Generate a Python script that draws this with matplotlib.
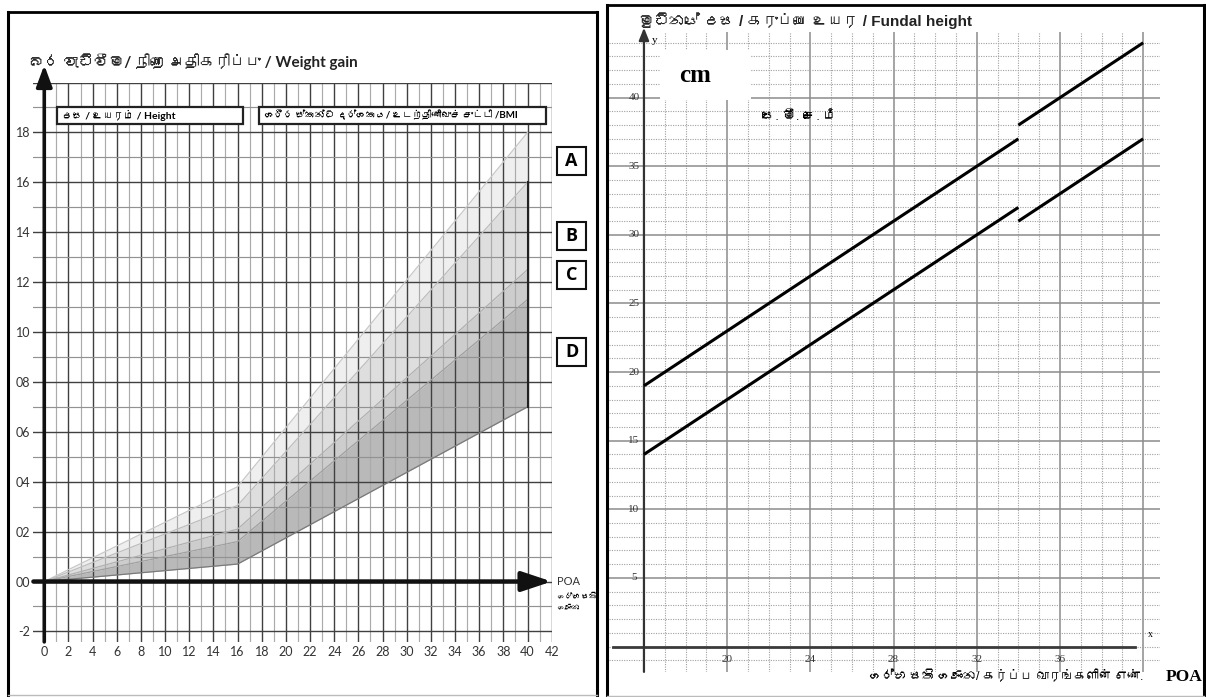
import matplotlib
matplotlib.use("Agg")
import matplotlib.pyplot as plt
from matplotlib import font_manager
from matplotlib.ft2font import FT2Font
from matplotlib.lines import Line2D
from matplotlib.patches import Rectangle

# --- weight gain chart (left) ---
gain_weeks = [0, 16, 40]
gain_low = [0, 0.7, 7.0]
gain_d = [0, 1.6, 11.3]
gain_c = [0, 2.1, 12.5]
gain_b = [0, 3.05, 16.0]
gain_a = [0, 3.8, 18.0]
bmi_labels = ["A", "B", "C", "D"]
bmi_label_y = [16.85, 13.85, 12.3, 9.2]
gain_yticks = [-2, 0, 2, 4, 6, 8, 10, 12, 14, 16, 18]
gain_yticklabels = ["-2", "00", "02", "04", "06", "08", "10", "12", "14", "16", "18"]
gain_xticks = list(range(0, 43, 2))

# --- fundal height chart (right) ---
upper_weeks = [[16, 34], [34, 40]]
upper_cm = [[19, 37], [38, 44]]
lower_weeks = [[16, 34], [34, 40]]
lower_cm = [[14, 32], [31, 37]]
fundal_xticks = [20, 24, 28, 32, 36]
fundal_yticks = [5, 10, 15, 20, 25, 30, 35, 40]

W, H = 1206, 697


def family_for(ch):
    """First installed family that has a glyph for ch."""
    for f in font_manager.fontManager.ttflist:
        try:
            if ord(ch) in FT2Font(f.fname).get_charmap():
                return f.name
        except Exception:
            pass
    return None


extra = [f for f in (family_for("ස"), family_for("க")) if f]


def fam(first):
    return [first] + extra + ["DejaVu Sans"]


def fx(px):
    return px / W


def fy(py):
    return 1 - py / H


def border(fig, x0, y0, x1, y1):
    for xs, ys, c, lw in [([x0, x0], [y0, y1], "black", 2.2),
                          ([x1, x1], [y0, y1], "black", 2.2),
                          ([x0, x1], [y0, y0], "black", 2.0),
                          ([x0, x1], [y1, y1], "#bbbbbb", 1.0)]:
        fig.add_artist(Line2D([fx(v) for v in xs], [fy(v) for v in ys],
                              color=c, lw=lw))


fig = plt.figure(figsize=(W / 100, H / 100), dpi=100)
fig.patch.set_facecolor("white")
border(fig, 8, 12, 597, 695)
border(fig, 607, 5, 1204, 696)

# ---------------- left chart ----------------
ax1 = fig.add_axes([fx(33.4), fy(641.9), (551.7 - 33.4) / W, (641.9 - 82.5) / H])
ax1.set_xlim(-0.9, 42)
ax1.set_ylim(-2.42, 20.0)
for s in ax1.spines.values():
    s.set_visible(False)

for v in range(0, 43):
    even = v % 2 == 0
    ax1.axvline(v, color="#404040" if even else "#ababab",
                lw=1.0 if even else 0.85, zorder=2)
for h in range(-2, 21):
    even = h % 2 == 0
    ax1.axhline(h, color="#404040" if even else "#929292",
                lw=1.0 if even else 0.85, zorder=2)

bands = [(gain_low, gain_d, "#b9b9b9"), (gain_d, gain_c, "#cdcdcd"),
         (gain_c, gain_b, "#dedede"), (gain_b, gain_a, "#efefef")]
for lo, hi, col in bands:
    ax1.fill_between(gain_weeks, lo, hi, color=col, lw=0, zorder=1)
for line, col in [(gain_a, "#c8c8c8"), (gain_b, "#bdbdbd"),
                  (gain_c, "#b0b0b0"), (gain_d, "#a0a0a0"),
                  (gain_low, "#7a7a7a")]:
    ax1.plot(gain_weeks, line, color=col, lw=0.9, zorder=3)
ax1.plot([gain_weeks[-1]] * 2, [gain_low[-1], gain_b[-1]], color="#222222",
         lw=1.5, zorder=3)

# axes arrows
ax1.annotate("", xy=(42, 0), xytext=(-0.9, 0), annotation_clip=False,
             arrowprops=dict(arrowstyle="-|>,head_length=0.9,head_width=0.3",
                             lw=3.2, color="#111111", shrinkA=0, shrinkB=0,
                             mutation_scale=20), zorder=6)
ax1.annotate("", xy=(0, 20.7), xytext=(0, -2.42), annotation_clip=False,
             arrowprops=dict(arrowstyle="-|>,head_length=0.65,head_width=0.24",
                             lw=2.6, color="#111111", shrinkA=0, shrinkB=0,
                             mutation_scale=20), zorder=6)

ax1.set_yticks(gain_yticks, gain_yticklabels)
ax1.set_xticks(gain_xticks)
ax1.tick_params(length=0, labelsize=9, labelcolor="#333333")
ax1.tick_params(axis="y", pad=2)
ax1.tick_params(axis="x", pad=3)
for lab in ax1.get_xticklabels() + ax1.get_yticklabels():
    lab.set_family(fam("Lato"))

# header boxes
ax1.add_patch(Rectangle((1.05, 18.34), 15.4, 0.68, fc="white", ec="#222222",
                        lw=1.6, zorder=5))
ax1.text(1.5, 18.68, "උස / உயரம் / Height", fontsize=7.5, fontweight="bold",
         family=fam("Lato"), va="center", ha="left", zorder=6)
ax1.add_patch(Rectangle((17.76, 18.34), 23.77, 0.68, fc="white", ec="#222222",
                        lw=1.6, zorder=5))
ax1.text(18.2, 18.68, "ශරීර ස්කන්ධ දර්ශකය/ உடற்திணிவுச் சுட்டி /BMI",
         fontsize=7, fontweight="bold", family=fam("Lato"), va="center",
         ha="left", zorder=6)

ax1.text(-1.3, 20.82, "බර වැඩිවීම/ நிறை அதிகரிப்பு / Weight gain", fontsize=11,
         fontweight="bold", family=fam("Lato"), va="center", ha="left",
         color="#222222")

for lab, y in zip(bmi_labels, bmi_label_y):
    ax1.add_patch(Rectangle((42.44, y - 0.56), 2.4, 1.12, fc="white",
                            ec="#111111", lw=1.5, clip_on=False, zorder=5))
    ax1.text(43.64, y, lab, fontsize=13, fontweight="bold",
             family="Open Sans", ha="center", va="center", zorder=6)

ax1.text(42.45, 0.02, "POA", fontsize=8, family=fam("Lato"), color="#333333",
         ha="left", va="center")
ax1.text(42.45, -0.8, "ගර්භ සති\nගණන", fontsize=5.5, fontweight="bold",
         family=fam("Lato"), ha="left", va="center", linespacing=1.5)

# ---------------- right chart ----------------
ax2 = fig.add_axes([fx(608.6), fy(671.9), (1159.8 - 608.6) / W, (671.9 - 31.8) / H])
ax2.set_xlim(14.3, 40.8)
ax2.set_ylim(-1.85, 44.8)
ax2.set_xticks([])
ax2.set_yticks([])
for s in ax2.spines.values():
    s.set_visible(False)

for v in range(16, 41):
    if v % 4 == 0:
        ax2.axvline(v, color="#8c8c8c", lw=1.1, zorder=1)
    else:
        ax2.axvline(v, color="#a0a0a0", lw=0.8, ls=(0, (1, 1.2)), zorder=1)
for h in range(-1, 45):
    if h % 5 == 0 and h > 0:
        ax2.axhline(h, color="#8c8c8c", lw=1.1, zorder=1)
    else:
        ax2.axhline(h, color="#a0a0a0", lw=0.8, ls=(0, (1, 1.2)), zorder=1)

ax2.plot([14.5, 39.6], [0, 0], color="#3a3a3a", lw=2.0, zorder=3)
ax2.annotate("", xy=(16, 45.1), xytext=(16, -1.85), annotation_clip=False,
             arrowprops=dict(arrowstyle="-|>,head_length=0.5,head_width=0.2",
                             lw=1.6, color="#333333", shrinkA=0, shrinkB=0,
                             mutation_scale=15), zorder=3)

for xs, ys in zip(upper_weeks + lower_weeks, upper_cm + lower_cm):
    ax2.plot(xs, ys, color="black", lw=2.2, zorder=4, solid_capstyle="butt")

for v in fundal_yticks:
    ax2.text(15.52, v, str(v), fontsize=8, family="Liberation Serif",
             color="#333333", ha="center", va="center", zorder=5)
for w in fundal_xticks:
    ax2.text(w, -0.92, str(w), fontsize=8, family="Liberation Serif",
             color="#333333", ha="center", va="center", zorder=5)

ax2.add_patch(Rectangle((16.77, 39.85), 4.37, 3.65, fc="white", ec="none",
                        zorder=4))
ax2.text(18.45, 41.65, "cm", fontsize=18, fontweight="bold",
         family="Liberation Serif", ha="center", va="center", zorder=5)
ax2.text(16.5, 44.2, "y", fontsize=8, family="Liberation Serif", ha="center",
         va="center", zorder=5)
ax2.text(40.35, 0.9, "x", fontsize=7, family="Liberation Serif", ha="center",
         va="center", zorder=5)
ax2.text(21.67, 38.6, "සෙ. මී. செ. மீ", fontsize=9.5, family=fam("Liberation Sans"),
         ha="left", va="center", zorder=5)

ax2.text(15.78, 45.6, "මුඩිනයේ උස / கருப்பை உயர / Fundal height", fontsize=11,
         fontweight="bold", family=fam("Liberation Sans"), ha="left",
         va="center", color="#222222", clip_on=False)
ax2.text(26.8, -2.45, "ගර්භ සති ගණන/ கர்ப்ப வாரங்களின் எண்.", fontsize=9,
         family=fam("Liberation Sans"), ha="left", va="baseline",
         clip_on=False)
ax2.text(41.1, -2.5, "POA", fontsize=12.5, fontweight="bold",
         family="Liberation Serif", ha="left", va="baseline", clip_on=False)

fig.savefig("out.png", dpi=100)
